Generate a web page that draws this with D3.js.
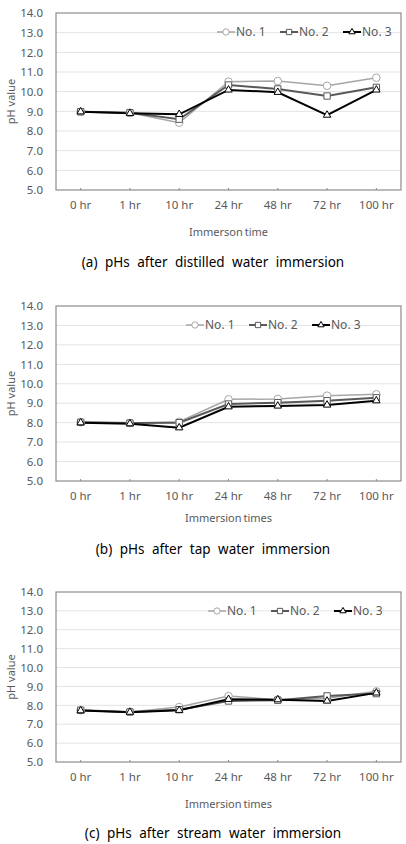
<!DOCTYPE html>
<html lang="en">
<head>
<meta charset="utf-8">
<script src="https://d3js.org/d3.v7.min.js"></script>
<style>
  body { margin: 0; background: #fff; }
  text { font-family: "Noto Sans", "DejaVu Sans", sans-serif; }
  .grid line { stroke: #e3e3e3; stroke-width: 1; }
  .tick text { fill: #595959; font-size: 11.5px; }
  .caption { font-size: 13.5px; fill: #000; word-spacing: 4px; }
</style>
<title>pH after immersion</title>
</head>
<body>
<script>
// categories and values
var hours = ["0 hr", "1 hr", "10 hr", "24 hr", "48 hr", "72 hr", "100 hr"];
var yTicks = [5, 6, 7, 8, 9, 10, 11, 12, 13, 14];
var seriesNames = ["No. 1", "No. 2", "No. 3"];

// (a) distilled water
var distilled1 = [8.98, 8.93, 8.42, 10.51, 10.54, 10.30, 10.71];
var distilled2 = [8.98, 8.93, 8.60, 10.34, 10.14, 9.78, 10.22];
var distilled3 = [8.98, 8.90, 8.85, 10.09, 9.97, 8.81, 10.09];

// (b) tap water
var tap1 = [8.02, 7.98, 8.05, 9.20, 9.22, 9.39, 9.46];
var tap2 = [8.02, 7.98, 8.00, 8.96, 9.03, 9.13, 9.28];
var tap3 = [8.00, 7.95, 7.74, 8.82, 8.86, 8.91, 9.13];

// (c) stream water
var stream1 = [7.74, 7.65, 7.91, 8.49, 8.30, 8.38, 8.74];
var stream2 = [7.74, 7.65, 7.77, 8.23, 8.27, 8.50, 8.62];
var stream3 = [7.72, 7.64, 7.74, 8.32, 8.30, 8.23, 8.66];

var w = 406, h = 844;
var svg = d3.select("body").append("svg").attr("width", w).attr("height", h);

var panels = [
  { top: 13, bottom: 190, xTitle: "Immerson time", caption: "(a) pHs after distilled water immersion",
    data: [distilled1, distilled2, distilled3], legendX: 217, tickY: 15, titleY: 42, capY: 72 },
  { top: 306, bottom: 481, xTitle: "Immersion times", caption: "(b) pHs after tap water immersion",
    data: [tap1, tap2, tap3], legendX: 186, tickY: 15, titleY: 37, capY: 68 },
  { top: 592, bottom: 762, xTitle: "Immersion times", caption: "(c) pHs after stream water immersion",
    data: [stream1, stream2, stream3], legendX: 208, tickY: 15, titleY: 42, capY: 71 }
];

var styles = [
  { color: "#a6a6a6", width: 1.5, symbol: d3.symbolCircle, size: 45 },
  { color: "#595959", width: 2, symbol: d3.symbolSquare, size: 40 },
  { color: "#000000", width: 2, symbol: d3.symbolTriangle, size: 24 }
];

var left = 56, right = 401;
var x = d3.scaleBand().domain(hours).range([left, right]);

panels.forEach(function(p) {
  var y = d3.scaleLinear().domain([5, 14]).range([p.bottom, p.top]);
  var g = svg.append("g");

  // gridlines
  g.append("g").attr("class", "grid")
    .selectAll("line").data(yTicks.slice(1, -1)).enter().append("line")
    .attr("x1", left).attr("x2", right)
    .attr("y1", function(d) { return y(d); })
    .attr("y2", function(d) { return y(d); });

  // y axis labels
  var ya = g.append("g").attr("transform", "translate(" + left + ",0)")
    .call(d3.axisLeft(y).tickValues(yTicks).tickFormat(d3.format(".1f")).tickSize(0).tickPadding(13));
  ya.select(".domain").remove();

  // x axis labels + small inner ticks
  var xa = g.append("g").attr("transform", "translate(0," + p.bottom + ")")
    .call(d3.axisBottom(x).tickSize(-2).tickPadding(p.tickY - 2));
  xa.select(".domain").remove();
  xa.selectAll(".tick line").attr("stroke", "#888");
  xa.selectAll(".tick text").attr("dy", "0.35em").attr("y", p.tickY);

  // plot frame
  g.append("rect").attr("x", left).attr("y", p.top)
    .attr("width", right - left).attr("height", p.bottom - p.top)
    .attr("fill", "none").attr("stroke", "#8c8c8c").attr("stroke-width", 1.2);

  // series
  var line = d3.line()
    .x(function(d, i) { return x(hours[i]) + x.bandwidth() / 2; })
    .y(function(d) { return y(d); });

  p.data.forEach(function(vals, k) {
    var s = styles[k];
    g.append("path").datum(vals).attr("d", line)
      .attr("fill", "none").attr("stroke", s.color).attr("stroke-width", s.width);
  });
  p.data.forEach(function(vals, k) {
    var s = styles[k];
    g.selectAll(".m" + k).data(vals).enter().append("path")
      .attr("transform", function(d, i) {
        return "translate(" + (x(hours[i]) + x.bandwidth() / 2) + "," + y(d) + ")";
      })
      .attr("d", d3.symbol().type(s.symbol).size(s.size))
      .attr("fill", "#fff").attr("stroke", s.color).attr("stroke-width", 1);
  });

  // legend
  var ly = p.top + 19;
  var lg = g.append("g").attr("transform", "translate(" + p.legendX + "," + ly + ")");
  seriesNames.forEach(function(name, k) {
    var s = styles[k];
    var ox = k * 63;
    lg.append("line").attr("x1", ox).attr("x2", ox + 18).attr("y1", 0).attr("y2", 0)
      .attr("stroke", s.color).attr("stroke-width", s.width);
    lg.append("path").attr("transform", "translate(" + (ox + 9) + ",0)")
      .attr("d", d3.symbol().type(s.symbol).size(s.size * 0.7))
      .attr("fill", "#fff").attr("stroke", s.color).attr("stroke-width", 1);
    lg.append("text").attr("x", ox + 19).attr("y", 0).attr("dy", "0.35em")
      .attr("fill", "#595959").style("font-size", "12px").text(name);
  });

  // y title
  g.append("text")
    .attr("transform", "translate(11," + ((p.top + p.bottom) / 2) + ") rotate(-90)")
    .attr("text-anchor", "middle").attr("dy", "0.35em")
    .attr("fill", "#595959").style("font-size", "11px").text("pH value");

  // x title
  g.append("text").attr("x", (left + right) / 2).attr("y", p.bottom + p.titleY)
    .attr("text-anchor", "middle").attr("dy", "0.35em")
    .attr("fill", "#595959").style("font-size", "11px").style("word-spacing", "-1px")
    .text(p.xTitle);

  // caption
  g.append("text").attr("class", "caption").attr("x", 213).attr("y", p.bottom + p.capY)
    .attr("text-anchor", "middle").attr("dy", "0.35em").text(p.caption);
});
</script>
</body>
</html>
